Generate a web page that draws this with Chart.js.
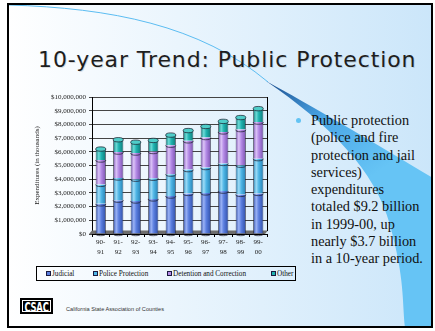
<!DOCTYPE html>
<html>
<head>
<meta charset="utf-8">
<script src="https://cdn.jsdelivr.net/npm/chart.js@4"></script>
<style>
  html, body { margin: 0; padding: 0; background: #fff; }
  #page { position: relative; width: 435px; height: 331px; overflow: hidden; }
  #frame { position: absolute; left: 7px; top: 3px; width: 426px; height: 325px; box-sizing: border-box; border: 2px solid #000; }
  #title { position: absolute; left: 38px; top: 47px; font: 22px "DejaVu Sans", Verdana, sans-serif; letter-spacing: 0.9px; color: #1e1e1e; white-space: nowrap; text-shadow: 1px 1px 0 rgba(0,0,0,0.12); }
  #chart { position: absolute; left: 30px; top: 88px; }
  #legend { position: absolute; left: 36px; top: 266px; width: 260px; height: 15px; box-sizing: border-box; border: 1px solid #000; font: 7.2px "Liberation Serif", "Times New Roman", serif; color: #111; }
  #legend .item { position: absolute; top: 0; height: 13px; display: flex; align-items: center; white-space: nowrap; }
  #legend .sw { width: 3px; height: 3px; border: 1px solid #1a1a40; margin-right: 1px; }
  #bullet { position: absolute; left: 296px; top: 118px; width: 5px; height: 5px; border-radius: 50%; background: #63c3f3; }
  #text { position: absolute; left: 311px; top: 112px; font: 14.3px "Liberation Serif", "Times New Roman", serif; line-height: 17.3px; color: #111; white-space: nowrap; }
  #logo { position: absolute; left: 20px; top: 298px; width: 33px; height: 16px; background: #000; box-sizing: border-box; outline: 1px solid #fff; outline-offset: -3px; overflow: hidden; text-align: center; }
  #logo span { display: inline-block; color: #fff; font: bold 12px "Liberation Sans Narrow", "DejaVu Sans Condensed", sans-serif; line-height: 16px; transform: scale(0.78, 1.1); letter-spacing: -0.3px; }
  #org { position: absolute; left: 66px; top: 306px; font: 5.6px "Liberation Sans", Arial, sans-serif; color: #333; white-space: nowrap; }
</style>
</head>
<body>
<div id="page">
  <svg width="435" height="331" style="position:absolute;left:0;top:0">
    <defs>
      <linearGradient id="bg" x1="0" y1="0" x2="1" y2="0">
        <stop offset="0" stop-color="#ffffff"/>
        <stop offset="1" stop-color="#cbe6fa"/>
      </linearGradient>
      <linearGradient id="wedge" gradientUnits="userSpaceOnUse" x1="265" y1="80" x2="345" y2="195">
        <stop offset="0" stop-color="#1a4a8a"/>
        <stop offset="0.45" stop-color="#4aa6e6"/>
        <stop offset="1" stop-color="#66c4f5"/>
      </linearGradient>
    </defs>
    <rect x="7" y="3" width="426" height="325" fill="url(#bg)"/>
    <path d="M9 5 C 110 8, 200 25, 268 82" stroke="#5cbdf2" fill="none" stroke-width="1"/>
    <path d="M266 81 C 330 125, 375 170, 390 225 S 402 300, 405 328 L 433 328 L 433 178 C 370 140, 310 105, 266 81 Z" fill="url(#wedge)"/>
  </svg>
  <div id="frame"></div>
  <div id="title">10-year Trend: Public Protection</div>
  <canvas id="chart" width="240" height="172"></canvas>
  <div id="legend"></div>
  <div id="bullet"></div>
  <div id="text">Public protection<br>(police and fire<br>protection and jail<br>services)<br>expenditures<br>totaled $9.2 billion<br>in 1999-00, up<br>nearly $3.7 billion<br>in a 10-year period.</div>
  <div id="logo"><span>CSAC</span></div>
  <div id="org">California State Association of Counties</div>
</div>

<script>
const categories = [['90-','91'], ['91-','92'], ['92-','93'], ['93-','94'], ['94-','95'], ['95-','96'], ['96-','97'], ['97-','98'], ['98-','99'], ['99-','00']];
const seriesNames = ['Judicial', 'Police Protection', 'Detention and Correction', 'Other'];
const judicial = [2200000, 2470000, 2410000, 2560000, 2770000, 2960000, 3000000, 3130000, 2890000, 2960000];
const police = [1420000, 1620000, 1590000, 1510000, 1600000, 1740000, 1850000, 2020000, 2130000, 2540000];
const detention = [1780000, 1890000, 1910000, 1950000, 2110000, 2100000, 2190000, 2300000, 2600000, 2670000];
const other = [800000, 900000, 790000, 810000, 740000, 750000, 810000, 770000, 880000, 980000];
const yMax = 10000000;
const yStep = 1000000;

// dark edge, base, highlight, cap
const palettes = [
    ['#2f4fa8', '#5b7fe0', '#9ab2f5', '#7f9cf0'],
    ['#2580b3', '#4fb6e6', '#9ddcf7', '#7ccbef'],
    ['#7a52b0', '#b48ae6', '#dcc4f7', '#c9a8f0'],
    ['#0d7a78', '#1fb3b0', '#6cdad6', '#4fcdc9']
];
const BAR_PCT = 0.58;
const legendLeft = [9, 56, 130, 234]; // px inside the legend box

function cylinder(p) {
    return (c) => {
        const chart = c.chart;
        const x = chart.scales.x;
        if (c.type !== 'data' || !x || !chart.chartArea) return p[1];
        const cx = x.getPixelForValue(c.dataIndex);
        const w = (x.width / categories.length) * BAR_PCT;
        const g = chart.ctx.createLinearGradient(cx - w / 2, 0, cx + w / 2, 0);
        g.addColorStop(0, p[0]);
        g.addColorStop(0.3, p[2]);
        g.addColorStop(0.55, p[1]);
        g.addColorStop(1, p[0]);
        return g;
    };
}

const font = { family: '"Liberation Serif", "Times New Roman", serif', size: 7 };

const deco = {
    id: 'deco',
    beforeDatasetsDraw(chart) {
        const { ctx, chartArea: a } = chart;
        ctx.save();
        ctx.fillStyle = '#6d6d6d';
        ctx.beginPath();
        ctx.moveTo(a.left - 3, a.bottom);
        ctx.lineTo(a.right - 2, a.bottom);
        ctx.lineTo(a.right + 1, a.bottom - 3.5);
        ctx.lineTo(a.left, a.bottom - 3.5);
        ctx.closePath();
        ctx.fill();
        ctx.strokeStyle = '#000';
        ctx.lineWidth = 1;
        ctx.beginPath();
        ctx.moveTo(a.right + 0.5, a.top);
        ctx.lineTo(a.right + 0.5, a.bottom - 3);
        ctx.stroke();
        ctx.restore();
    },
    afterDatasetsDraw(chart) {
        const ctx = chart.ctx;
        ctx.save();
        ctx.lineWidth = 0.7;
        ctx.strokeStyle = '#1a1a2a';
        const n = chart.data.datasets.length;
        chart.data.datasets.forEach((ds, di) => {
            const meta = chart.getDatasetMeta(di);
            meta.data.forEach((bar) => {
                const rx = bar.width / 2, ry = 2.2;
                if (di === n - 1) {
                    ctx.fillStyle = palettes[di][3];
                    ctx.beginPath();
                    ctx.ellipse(bar.x, bar.y, rx, ry, 0, 0, Math.PI * 2);
                    ctx.fill();
                    ctx.stroke();
                } else {
                    ctx.beginPath();
                    ctx.ellipse(bar.x, bar.y, rx, ry, 0, 0, Math.PI);
                    ctx.stroke();
                }
                if (di === 0) {
                    ctx.beginPath();
                    ctx.ellipse(bar.x, bar.base, rx, ry, 0, 0, Math.PI);
                    ctx.stroke();
                }
            });
        });
        ctx.restore();
    }
};

const seriesData = [judicial, police, detention, other];

new Chart(document.getElementById('chart').getContext('2d'), {
    type: 'bar',
    data: {
        labels: categories,
        datasets: seriesData.map((d, i) => ({
            label: seriesNames[i],
            data: d,
            backgroundColor: cylinder(palettes[i]),
            borderColor: '#1a1a2a',
            borderWidth: { left: 0.7, right: 0.7, top: 0, bottom: 0 },
            borderSkipped: false,
            categoryPercentage: 1,
            barPercentage: BAR_PCT
        }))
    },
    options: {
        responsive: false,
        animation: false,
        layout: { padding: { top: 9, right: 3, left: 0, bottom: 0 } },
        plugins: { legend: { display: false }, tooltip: { enabled: false } },
        scales: {
            x: {
                stacked: true,
                grid: { drawOnChartArea: false, offset: true, tickLength: 3, color: '#000' },
                border: { color: '#000' },
                ticks: { font: { ...font, lineHeight: 1.45 }, color: '#222', padding: 0, maxRotation: 0, autoSkip: false },
                afterFit: (s) => { s.height = 26; }
            },
            y: {
                stacked: true,
                min: 0,
                max: yMax,
                ticks: {
                    stepSize: yStep,
                    font: font,
                    color: '#222',
                    padding: 3,
                    callback: (v) => '$' + v.toLocaleString('en-US')
                },
                grid: { color: '#444', tickLength: 3 },
                border: { color: '#000' },
                title: { display: true, text: 'Expenditures (in thousands)', font: font, color: '#222', padding: { top: 3, bottom: 2 } },
                afterFit: (s) => { s.width = 62; }
            }
        }
    },
    plugins: [deco]
});

// legend
const legend = document.getElementById('legend');
seriesNames.forEach((name, i) => {
    const item = document.createElement('div');
    item.className = 'item';
    item.style.left = legendLeft[i] + 'px';
    const sw = document.createElement('span');
    sw.className = 'sw';
    sw.style.background = palettes[i][1];
    const t = document.createElement('span');
    t.textContent = name;
    item.appendChild(sw);
    item.appendChild(t);
    legend.appendChild(item);
});
</script>
</body>
</html>
